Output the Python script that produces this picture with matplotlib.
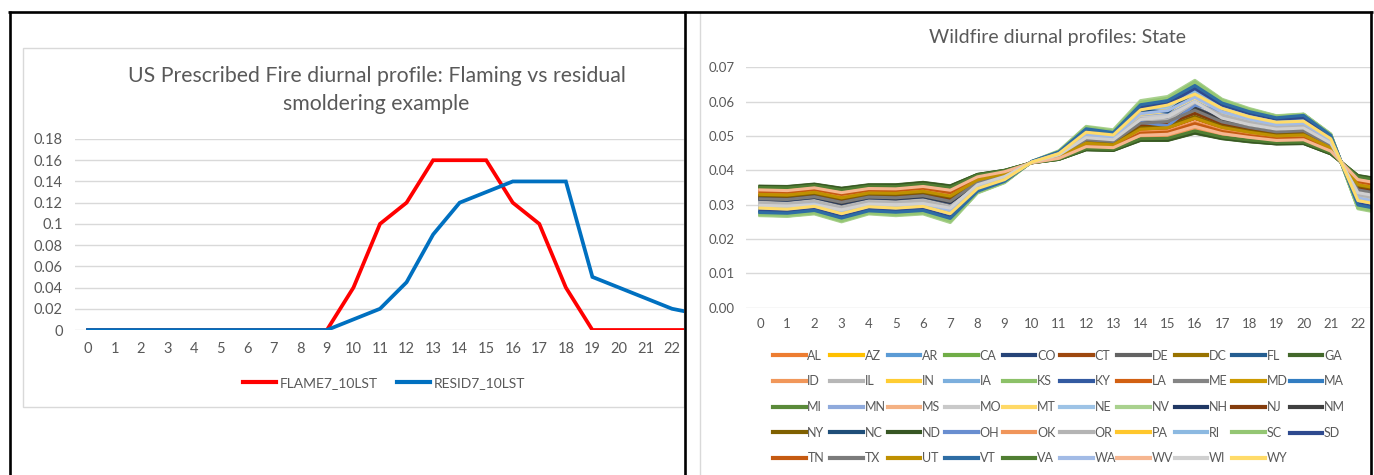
import matplotlib
matplotlib.use('Agg')
import matplotlib.pyplot as plt
from matplotlib.lines import Line2D
from matplotlib.patches import Rectangle

plt.rcParams['font.family'] = ['Lato', 'DejaVu Sans']

W, H, DPI = 1374, 475, 100
GRAY_TXT = '#595959'
GRID = '#D9D9D9'

# ---------------- data ----------------
hours = list(range(24))
hour_labels = [str(h) for h in hours]

left_title_1 = 'US Prescribed Fire diurnal profile: Flaming vs residual'
left_title_2 = 'smoldering example'
flame_label = 'FLAME7_10LST'
resid_label = 'RESID7_10LST'
flame = [0, 0, 0, 0, 0, 0, 0, 0, 0, 0, 0.04, 0.10, 0.12, 0.16, 0.16, 0.16, 0.12, 0.10, 0.04, 0, 0, 0, 0, 0]
resid = [0, 0, 0, 0, 0, 0, 0, 0, 0, 0, 0.01, 0.02, 0.045, 0.09, 0.12, 0.13, 0.14, 0.14, 0.14, 0.05, 0.04, 0.03, 0.02, 0.015]
left_yticks = [0, 0.02, 0.04, 0.06, 0.08, 0.10, 0.12, 0.14, 0.16, 0.18]
left_ylabels = ['0', '0.02', '0.04', '0.06', '0.08', '0.1', '0.12', '0.14', '0.16', '0.18']

right_title = 'Wildfire diurnal profiles: State'
right_yticks = [0, 0.01, 0.02, 0.03, 0.04, 0.05, 0.06, 0.07]
right_ylabels = ['0.00', '0.01', '0.02', '0.03', '0.04', '0.05', '0.06', '0.07']

states = ['AL', 'AZ', 'AR', 'CA', 'CO', 'CT', 'DE', 'DC', 'FL', 'GA',
          'ID', 'IL', 'IN', 'IA', 'KS', 'KY', 'LA', 'ME', 'MD', 'MA',
          'MI', 'MN', 'MS', 'MO', 'MT', 'NE', 'NV', 'NH', 'NJ', 'NM',
          'NY', 'NC', 'ND', 'OH', 'OK', 'OR', 'PA', 'RI', 'SC', 'SD',
          'TN', 'TX', 'UT', 'VT', 'VA', 'WA', 'WV', 'WI', 'WY']
state_colors = ['#ED7D31', '#FFC000', '#5B9BD5', '#70AD47', '#264478', '#9E480E', '#636363', '#997300', '#255E91', '#43682B',
                '#F1975A', '#B7B7B7', '#FFCD33', '#7CAFDD', '#8CC168', '#335AA1', '#D26012', '#848484', '#CC9A00', '#327DC2',
                '#5A8A39', '#8FAADC', '#F4B183', '#C9C9C9', '#FFD966', '#9DC3E6', '#A9D18E', '#203864', '#843C0C', '#404040',
                '#7F6000', '#1F4E79', '#375623', '#698ED0', '#F0955A', '#B4B4B4', '#FFC72C', '#8CB9E1', '#94C673', '#2E4A8F',
                '#C55A11', '#7B7B7B', '#BF9000', '#2E6DA4', '#507E32', '#A2BBE6', '#F6B690', '#D0D0D0', '#FFDB69']

AL = [.0345, .0343, .0351, .0337, .0349, .0348, .0355, .0344, .0382, .0396, .0422, .0435, .0468, .0465, .0500, .0502, .0525, .0505, .0494, .0486, .0488, .0455, .0375, .0361]
AZ = [.0335, .0300, .0303, .0283, .0301, .0297, .0303, .0284, .0352, .0376, .0424, .0448, .0507, .0499, .0567, .0576, .0615, .0571, .0550, .0534, .0538, .0488, .0320, .0305]
AR = [.0339, .0337, .0345, .0331, .0343, .0342, .0349, .0336, .0378, .0394, .0423, .0436, .0471, .0467, .0507, .0509, .0535, .0512, .0500, .0491, .0493, .0458, .0368, .0355]
CA = [.0270, .0267, .0275, .0252, .0275, .0270, .0275, .0250, .0335, .0365, .0425, .0455, .0525, .0515, .0600, .0612, .0660, .0605, .0578, .0558, .0563, .0505, .0290, .0275]
CO = [.0280, .0277, .0285, .0263, .0284, .0280, .0285, .0262, .0341, .0369, .0425, .0452, .0517, .0508, .0585, .0596, .0640, .0592, .0568, .0551, .0556, .0500, .0302, .0287]
CT = [.0320, .0319, .0326, .0310, .0325, .0323, .0329, .0313, .0367, .0386, .0423, .0441, .0486, .0481, .0532, .0537, .0569, .0537, .0521, .0509, .0512, .0471, .0347, .0333]
DE = [.0322, .0320, .0328, .0312, .0327, .0325, .0331, .0315, .0368, .0387, .0423, .0441, .0485, .0480, .0530, .0535, .0567, .0535, .0520, .0508, .0511, .0470, .0348, .0334]
DC = [.0329, .0327, .0335, .0319, .0333, .0332, .0338, .0324, .0372, .0390, .0423, .0439, .0480, .0475, .0521, .0525, .0554, .0526, .0512, .0501, .0504, .0465, .0357, .0343]
FL = [.0276, .0274, .0282, .0260, .0281, .0277, .0282, .0259, .0338, .0368, .0426, .0454, .0520, .0511, .0590, .0602, .0648, .0597, .0572, .0555, .0563, .0503, .0298, .0283]
GA = [.0354, .0353, .0360, .0348, .0358, .0358, .0365, .0355, .0388, .0400, .0422, .0432, .0460, .0458, .0487, .0487, .0508, .0492, .0483, .0477, .0478, .0448, .0385, .0372]
ID = [.0346, .0344, .0352, .0338, .0350, .0349, .0356, .0345, .0383, .0397, .0422, .0434, .0467, .0464, .0498, .0500, .0523, .0503, .0493, .0485, .0487, .0454, .0376, .0362]
IL = [.0304, .0301, .0309, .0290, .0308, .0305, .0311, .0292, .0356, .0379, .0424, .0446, .0499, .0492, .0555, .0562, .0599, .0560, .0540, .0526, .0529, .0482, .0328, .0314]
IN = [.0295, .0293, .0301, .0281, .0300, .0296, .0302, .0282, .0351, .0376, .0424, .0448, .0506, .0498, .0566, .0575, .0614, .0571, .0550, .0534, .0538, .0488, .0319, .0304]
IA = [.0287, .0284, .0292, .0271, .0292, .0288, .0293, .0271, .0346, .0372, .0424, .0450, .0512, .0504, .0577, .0587, .0630, .0582, .0559, .0542, .0546, .0494, .0309, .0294]
KS = [.0272, .0268, .0277, .0254, .0277, .0272, .0277, .0253, .0337, .0366, .0425, .0453, .0522, .0512, .0596, .0608, .0655, .0602, .0576, .0556, .0561, .0503, .0292, .0277]
KY = [.0314, .0311, .0319, .0301, .0318, .0315, .0321, .0304, .0362, .0383, .0424, .0444, .0492, .0486, .0535, .0525, .0580, .0548, .0530, .0517, .0520, .0476, .0339, .0325]
LA = [.0331, .0329, .0337, .0321, .0335, .0334, .0340, .0326, .0373, .0391, .0423, .0438, .0478, .0473, .0518, .0522, .0550, .0523, .0510, .0499, .0502, .0464, .0359, .0345]
ME = [.0312, .0310, .0318, .0300, .0317, .0314, .0320, .0303, .0362, .0383, .0424, .0444, .0493, .0487, .0544, .0550, .0584, .0549, .0531, .0518, .0521, .0477, .0338, .0324]
MD = [.0319, .0317, .0325, .0309, .0324, .0322, .0328, .0312, .0366, .0386, .0423, .0442, .0488, .0483, .0534, .0539, .0571, .0539, .0523, .0510, .0513, .0472, .0345, .0331]
MA = [.0279, .0276, .0284, .0262, .0283, .0279, .0284, .0262, .0340, .0369, .0425, .0453, .0518, .0509, .0587, .0598, .0643, .0593, .0569, .0550, .0554, .0499, .0300, .0285]
MI = [.0352, .0351, .0358, .0346, .0356, .0356, .0363, .0353, .0387, .0399, .0422, .0432, .0461, .0459, .0489, .0489, .0510, .0494, .0484, .0478, .0479, .0449, .0383, .0370]
MN = [.0302, .0300, .0308, .0289, .0307, .0304, .0310, .0291, .0355, .0378, .0424, .0446, .0500, .0493, .0556, .0563, .0601, .0561, .0541, .0527, .0530, .0483, .0327, .0313]
MS = [.0337, .0336, .0343, .0329, .0341, .0340, .0347, .0334, .0377, .0393, .0423, .0437, .0473, .0469, .0510, .0512, .0538, .0515, .0502, .0493, .0495, .0459, .0366, .0353]
MO = [.0306, .0303, .0311, .0292, .0310, .0307, .0313, .0294, .0357, .0380, .0424, .0445, .0498, .0491, .0553, .0560, .0596, .0558, .0539, .0525, .0528, .0481, .0330, .0316]
MT = [.0297, .0294, .0302, .0282, .0301, .0298, .0304, .0283, .0352, .0377, .0424, .0447, .0504, .0496, .0563, .0572, .0611, .0569, .0548, .0532, .0536, .0487, .0321, .0306]
NE = [.0289, .0286, .0294, .0273, .0294, .0290, .0295, .0273, .0347, .0373, .0424, .0449, .0510, .0502, .0574, .0584, .0627, .0580, .0557, .0541, .0545, .0493, .0311, .0296]
NV = [.0268, .0266, .0273, .0250, .0273, .0268, .0273, .0248, .0334, .0364, .0426, .0457, .0528, .0518, .0603, .0615, .0662, .0607, .0580, .0559, .0564, .0506, .0288, .0273]
NH = [.0316, .0313, .0321, .0303, .0320, .0317, .0323, .0306, .0363, .0384, .0424, .0443, .0491, .0485, .0541, .0547, .0581, .0547, .0529, .0516, .0519, .0475, .0340, .0326]
NJ = [.0323, .0321, .0328, .0313, .0327, .0325, .0331, .0316, .0368, .0387, .0423, .0441, .0485, .0480, .0531, .0536, .0566, .0536, .0520, .0508, .0511, .0470, .0349, .0335]
NM = [.0318, .0316, .0323, .0305, .0322, .0319, .0325, .0308, .0364, .0384, .0423, .0443, .0490, .0484, .0540, .0546, .0580, .0545, .0528, .0515, .0518, .0474, .0342, .0328]
NY = [.0327, .0325, .0333, .0317, .0331, .0330, .0336, .0322, .0371, .0389, .0423, .0440, .0482, .0477, .0524, .0528, .0557, .0528, .0514, .0503, .0506, .0466, .0355, .0341]
NC = [.0285, .0282, .0290, .0269, .0290, .0286, .0291, .0269, .0344, .0371, .0424, .0451, .0514, .0505, .0575, .0570, .0628, .0584, .0561, .0544, .0548, .0496, .0307, .0292]
ND = [.0353, .0352, .0359, .0347, .0357, .0357, .0364, .0354, .0388, .0400, .0422, .0432, .0460, .0458, .0488, .0488, .0509, .0493, .0484, .0477, .0478, .0448, .0384, .0371]
OH = [.0293, .0291, .0299, .0279, .0298, .0294, .0300, .0280, .0350, .0375, .0424, .0449, .0508, .0500, .0540, .0530, .0590, .0572, .0551, .0535, .0539, .0489, .0317, .0302]
OK = [.0336, .0334, .0342, .0328, .0340, .0339, .0346, .0333, .0377, .0393, .0423, .0437, .0474, .0470, .0511, .0514, .0540, .0516, .0503, .0494, .0496, .0460, .0365, .0352]
OR = [.0305, .0302, .0310, .0291, .0309, .0306, .0312, .0293, .0356, .0379, .0424, .0446, .0499, .0492, .0550, .0545, .0598, .0560, .0540, .0526, .0529, .0482, .0329, .0315]
PA = [.0288, .0285, .0293, .0272, .0293, .0289, .0294, .0272, .0346, .0372, .0424, .0450, .0513, .0503, .0579, .0589, .0632, .0583, .0560, .0543, .0547, .0495, .0310, .0295]
RI = [.0286, .0283, .0291, .0270, .0291, .0287, .0292, .0270, .0345, .0372, .0424, .0451, .0513, .0505, .0578, .0588, .0631, .0583, .0559, .0542, .0546, .0494, .0308, .0293]
SC = [.0271, .0269, .0276, .0253, .0276, .0271, .0276, .0252, .0336, .0366, .0425, .0455, .0526, .0514, .0598, .0610, .0658, .0604, .0577, .0557, .0562, .0504, .0291, .0276]
SD = [.0282, .0279, .0287, .0265, .0286, .0282, .0287, .0264, .0342, .0370, .0425, .0452, .0516, .0507, .0584, .0594, .0638, .0590, .0566, .0549, .0553, .0498, .0303, .0288]
TN = [.0338, .0336, .0344, .0330, .0342, .0341, .0348, .0335, .0378, .0394, .0423, .0436, .0472, .0468, .0508, .0511, .0536, .0513, .0501, .0492, .0494, .0459, .0367, .0354]
TX = [.0317, .0315, .0323, .0307, .0322, .0320, .0326, .0310, .0365, .0385, .0423, .0442, .0489, .0484, .0537, .0542, .0575, .0541, .0525, .0512, .0515, .0473, .0343, .0329]
UT = [.0330, .0328, .0336, .0320, .0334, .0333, .0339, .0325, .0372, .0390, .0423, .0439, .0479, .0474, .0520, .0524, .0552, .0525, .0511, .0500, .0503, .0465, .0358, .0344]
VT = [.0277, .0275, .0283, .0261, .0282, .0278, .0283, .0260, .0339, .0368, .0426, .0454, .0521, .0510, .0591, .0603, .0647, .0596, .0571, .0553, .0560, .0502, .0299, .0284]
VA = [.0350, .0349, .0356, .0343, .0354, .0353, .0360, .0350, .0386, .0399, .0422, .0433, .0463, .0461, .0492, .0493, .0515, .0497, .0488, .0481, .0482, .0451, .0381, .0367]
WA = [.0296, .0294, .0302, .0282, .0301, .0297, .0303, .0283, .0351, .0376, .0424, .0448, .0505, .0497, .0565, .0574, .0613, .0570, .0549, .0533, .0537, .0488, .0320, .0305]
WV = [.0343, .0341, .0349, .0335, .0347, .0346, .0353, .0342, .0381, .0396, .0422, .0435, .0469, .0466, .0502, .0505, .0528, .0507, .0496, .0487, .0489, .0456, .0373, .0359]
WI = [.0298, .0296, .0300, .0285, .0302, .0300, .0303, .0290, .0358, .0382, .0424, .0445, .0495, .0489, .0548, .0555, .0600, .0552, .0533, .0520, .0523, .0479, .0335, .0321]
WY = [.0290, .0287, .0295, .0274, .0294, .0290, .0295, .0274, .0347, .0373, .0424, .0449, .0511, .0503, .0576, .0590, .0622, .0580, .0556, .0540, .0543, .0492, .0312, .0297]

state_values = [AL, AZ, AR, CA, CO, CT, DE, DC, FL, GA,
                ID, IL, IN, IA, KS, KY, LA, ME, MD, MA,
                MI, MN, MS, MO, MT, NE, NV, NH, NJ, NM,
                NY, NC, ND, OH, OK, OR, PA, RI, SC, SD,
                TN, TX, UT, VT, VA, WA, WV, WI, WY]


# ---------------- helpers ----------------
def fx(x):
    return x / W


def fy(y):
    return 1 - y / H


fig = plt.figure(figsize=(W / DPI, H / DPI), dpi=DPI)
fig.patch.set_facecolor('white')


def style_axes(ax, yticks, ylabels, xlim, ylim, fs, ypad, xpad):
    # ticks first (set_ticks may widen limits), then limits
    ax.set_yticks(yticks)
    ax.set_yticklabels(ylabels)
    ax.set_xticks(hours)
    ax.set_xticklabels(hour_labels)
    ax.set_xlim(*xlim)
    ax.set_ylim(*ylim)
    for s in ax.spines.values():
        s.set_visible(False)
    ax.yaxis.grid(True, color=GRID, lw=1.0)
    ax.set_axisbelow(True)
    ax.tick_params(axis='both', length=0, labelcolor=GRAY_TXT, labelsize=fs)
    ax.tick_params(axis='y', pad=ypad)
    ax.tick_params(axis='x', pad=xpad)
    ax.patch.set_alpha(0)


# ---------------- chart frames (drawn first) ----------------
fig.add_artist(Rectangle((fx(23), fy(407)), (684 - 23) / W, (407 - 48) / H,
                         transform=fig.transFigure, facecolor='white',
                         edgecolor=GRID, lw=1.0, zorder=0))
fig.add_artist(Line2D([fx(700), fx(700)], [fy(12), fy(475)], transform=fig.transFigure,
                      color=GRID, lw=1.0, zorder=0))

# ---------------- left chart ----------------
axL = fig.add_axes([fx(74.7), fy(330), (684 - 74.7) / W, (330 - 139) / H])
style_axes(axL, left_yticks, left_ylabels, (-0.5, 22.45), (0, 0.18), 10.5, 8.5, 8.5)
axL.plot(hours, flame, color='#FF0000', lw=2.7, solid_joinstyle='miter', label=flame_label)
axL.plot(hours, resid, color='#0070C0', lw=2.7, solid_joinstyle='miter', label=resid_label)

fig.text(fx(376.5), fy(76), left_title_1, ha='center', va='center', fontsize=15.3, color=GRAY_TXT)
fig.text(fx(376.5), fy(104), left_title_2, ha='center', va='center', fontsize=15.3, color=GRAY_TXT)

hl = [Line2D([], [], color='#FF0000', lw=3), Line2D([], [], color='#0070C0', lw=3)]
fig.legend(hl, [flame_label, resid_label], loc='center left',
           bbox_to_anchor=(fx(243), fy(383)), ncol=2, frameon=False, fontsize=10,
           handlelength=2.38, handletextpad=0.25, columnspacing=1.4,
           borderpad=0, borderaxespad=0, labelcolor=GRAY_TXT)

# ---------------- right chart ----------------
axR = fig.add_axes([fx(746.4), fy(307.7), (1371 - 746.4) / W, (307.7 - 67.3) / H])
style_axes(axR, right_yticks, right_ylabels, (-0.5, 22.48), (0, 0.07), 9.5, 8.5, 7.5)
for name, col, vals in zip(states, state_colors, state_values):
    axR.plot(hours, vals, color=col, lw=2.2, label=name)

fig.text(fx(1057.6), fy(37.5), right_title, ha='center', va='center', fontsize=14, color=GRAY_TXT)

for c in range(10):
    idx = [r * 10 + c for r in range(5) if r * 10 + c < len(states)]
    n = len(idx)
    yc = 356 + (n - 1) * 25.5 / 2
    hs = [Line2D([], [], color=state_colors[i], lw=3) for i in idx]
    fig.legend(hs, [states[i] for i in idx], loc='center left',
               bbox_to_anchor=(fx(773 + 57.4 * c), fy(yc)), frameon=False, fontsize=9,
               handlelength=2.6, handletextpad=0.15, labelspacing=1.1,
               borderpad=0, borderaxespad=0, labelcolor=GRAY_TXT)

# ---------------- table borders ----------------
bk = dict(transform=fig.transFigure, color='black', lw=1.9, zorder=10, solid_capstyle='butt')
fig.add_artist(Line2D([fx(8), fx(1372.5)], [fy(11.5), fy(11.5)], **bk))
fig.add_artist(Line2D([fx(9.5), fx(9.5)], [fy(10.5), fy(475)], **bk))
fig.add_artist(Line2D([fx(684.8), fx(684.8)], [fy(10.5), fy(475)], **bk))
fig.add_artist(Line2D([fx(1371.2), fx(1371.2)], [fy(10.5), fy(475)], **bk))

fig.savefig('out.png', dpi=DPI, facecolor='white')
